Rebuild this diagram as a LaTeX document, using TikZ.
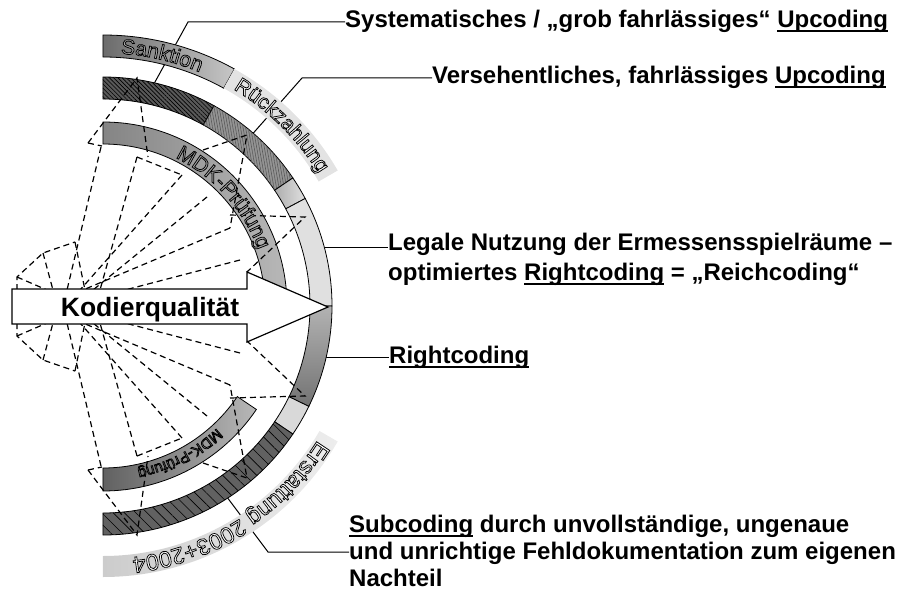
\documentclass[tikz,border=0pt]{standalone}
\usepackage{fontspec}
\setmainfont{Liberation Sans}
\usetikzlibrary{decorations.text,patterns,patterns.meta}

\newcommand{\unt}[1]{\setbox0\hbox{#1}\rlap{\rule[-4.5pt]{\wd0}{2pt}}\box0\relax}
\newcommand{\bandfill}{white}
% hollow letters: fill light, stroke black
\newcommand{\bandchar}[1]{\textcolor{\bandfill}{\special{pdf:literal direct 0 G 0.75 w 2 Tr}#1\special{pdf:literal direct 0 Tr}}}
\newcommand{\bandfont}{\fontsize{21}{24}\selectfont}
% ring segment: [style]{inner r}{outer r}{start angle}{end angle}
\newcommand{\ringseg}[5][]{%
  \path[#1] (#4:#3) arc[start angle=#4, end angle=#5, radius=#3]
    -- (#5:#2) arc[start angle=#5, end angle=#4, radius=#2] -- cycle;}
% dashed fan, pixel coordinates of the upper half
\newcommand{\strichfan}{%
  \draw (88,143) -- (137,78) -- (148,157);
  \draw (88,143) -- (102,146);
  \draw (101,147) -- (67,290);
  \draw (137,157) -- (182,175);
  \draw (137,157) -- (100,290);
  \draw (182,175) -- (80,290);
  \draw (203,150) -- (247,135) -- (230,228);
  \draw (230,215) -- (305,217) -- (247,272);
  \draw (207,197) -- (93,290);
  \draw (230,228) -- (83,290);
  \draw (240,260) -- (125,290);
  \draw (17,300) -- (17,277) -- (43,253) -- (75,242);
  \draw (43,253) -- (53,290);
  \draw (75,242) -- (85,290);
  \draw (17,277) -- (47,290);}

\tikzset{
  band/.style={draw=black, line width=0.8pt},
  hatch/.style n args={3}{postaction={pattern={Lines[angle=#1,distance=#2,line width=0.6pt]}, pattern color=#3}},
  gestr/.style={line width=1.2pt, dash pattern=on 6pt off 4pt},
  leader/.style={line width=1pt},
  lbl/.style={font=\fontsize{24}{29}\selectfont\bfseries, inner sep=0pt, align=left},
  pfeil/.style={fill=white, draw=black, line width=1.2pt},
  bandtext/.style 2 args={decorate, decoration={text effects along path, text={#1},
    text effects/.cd, text along path, character command=\bandchar,
    characters={anchor=base, font=#2}}},
}

\begin{document}
\begin{tikzpicture}[x=1pt,y=1pt]
  % pixel frame: (X,Y) -> (X-103, 306-Y)
  \begin{scope}[shift={(-103,306)}, yscale=-1]
    \useasboundingbox (0,0) rectangle (902,592);
    \node[lbl, anchor=base west] (l1) at (345,28) {Systematisches / „grob fahrlässiges“ \unt{Upcoding}};
    \node[lbl, anchor=base west] (l2) at (432,84) {Versehentliches, fahrlässiges \unt{Upcoding}};
    \node[lbl, anchor=west, font=\fontsize{24}{30}\selectfont\bfseries] (l3) at (388,259)
      {Legale Nutzung der Ermessensspielräume –\\optimiertes \unt{Rightcoding} = „Reichcoding“};
    \node[lbl, anchor=base west] (l4) at (389,363) {\unt{Rightcoding}};
    \node[lbl, anchor=west, font=\fontsize{24}{27}\selectfont\bfseries] (l5) at (349,551)
      {\unt{Subcoding} durch unvollständige, ungenaue\\und unrichtige Fehldokumentation zum eigenen\\Nachteil};
    \coordinate (k1) at (188,22);
    \coordinate (k2) at (302,78);
    \coordinate (k5) at (268,552);
  \end{scope}

  % leader end points on the ring
  \coordinate (e1) at (77:229);
  \coordinate (e2) at (49:229);
  \coordinate (e3) at (14.7:229);
  \coordinate (e4) at (-13:229);
  \coordinate (e5) at (-57:229);
  \draw[leader] (e1) -- (k1) -- (k1 -| l1.west);
  \draw[leader] (e2) -- (k2) -- (k2 -| l2.west);
  \draw[leader] (e3) -- (e3 -| l3.west);
  \draw[leader] (e4) -- (e4 -| l4.west);
  \draw[leader] (e5) -- (k5) -- (k5 -| l5.west);

  % outer ring
  \ringseg[band, left color=black!58, right color=black!22]{249}{271}{90}{61}
  \ringseg[fill=black!11]{249}{271}{61}{30}
  \ringseg[left color=black!20, right color=black!7]{250}{271}{-90}{-30}
  % middle ring
  \ringseg[band, fill=black!65, hatch={135}{3pt}{black}]{207}{229}{90}{61}
  \ringseg[band, fill=black!42, hatch={100}{2.5pt}{black!65}]{207}{229}{61}{34}
  \ringseg[band, left color=black!32, right color=black!12]{207}{229}{34}{28}
  \ringseg[band, fill=black!12]{207}{229}{28}{0}
  \ringseg[band, top color=black!30, bottom color=black!55]{207}{229}{0}{-26}
  \ringseg[band, fill=black!15]{207}{229}{-26}{-34}
  \ringseg[band, fill=black!62, hatch={135}{8pt}{black}]{207}{229}{-34}{-90}
  % inner ring
  \ringseg[band, left color=black!48, right color=black!28]{162}{184}{90}{3}
  \ringseg[band, left color=black!62, right color=black!28]{162}{185}{-90}{-34}

  % dashed fan, upper half and mirrored lower half
  \begin{scope}[shift={(-103,306)}, yscale=-1, gestr]
    \strichfan
  \end{scope}
  \begin{scope}[shift={(-103,-307)}, gestr]
    \strichfan
  \end{scope}

  % arrow
  \begin{scope}[shift={(-103,306)}, yscale=-1]
    \draw[pfeil] (12,289) -- (247,289) -- (247,272) -- (328,307)
      -- (247,342) -- (247,324) -- (12,324) -- cycle;
    \node[lbl, anchor=base, font=\fontsize{26.5}{30}\selectfont\bfseries] (kq) at (150,316) {Kodierqualität};
  \end{scope}

  % texts on the rings
  \renewcommand{\bandfill}{black!30}
  \path[bandtext={Sanktion}{\bandfont}] (86:253) arc[start angle=86, end angle=50, radius=253];
  \renewcommand{\bandfill}{white}
  \path[bandtext={Rückzahlung}{\bandfont}] (59:253) arc[start angle=59, end angle=20, radius=253];
  \renewcommand{\bandfill}{black!35}
  \path[bandtext={MDK-Prüfung}{\bandfont}] (64:165) arc[start angle=64, end angle=5, radius=165];
  \renewcommand{\bandfill}{black!45}
  \path[bandtext={MDK-Prüfung}{\fontsize{15}{18}\selectfont}] (-47:167) arc[start angle=-47, end angle=-95, radius=167];
  \renewcommand{\bandfill}{white}
  \path[bandtext={Erstattung 2003+2004}{\fontsize{23}{26}\selectfont}] (-32:253) arc[start angle=-32, end angle=-100, radius=253];
\end{tikzpicture}
\end{document}
